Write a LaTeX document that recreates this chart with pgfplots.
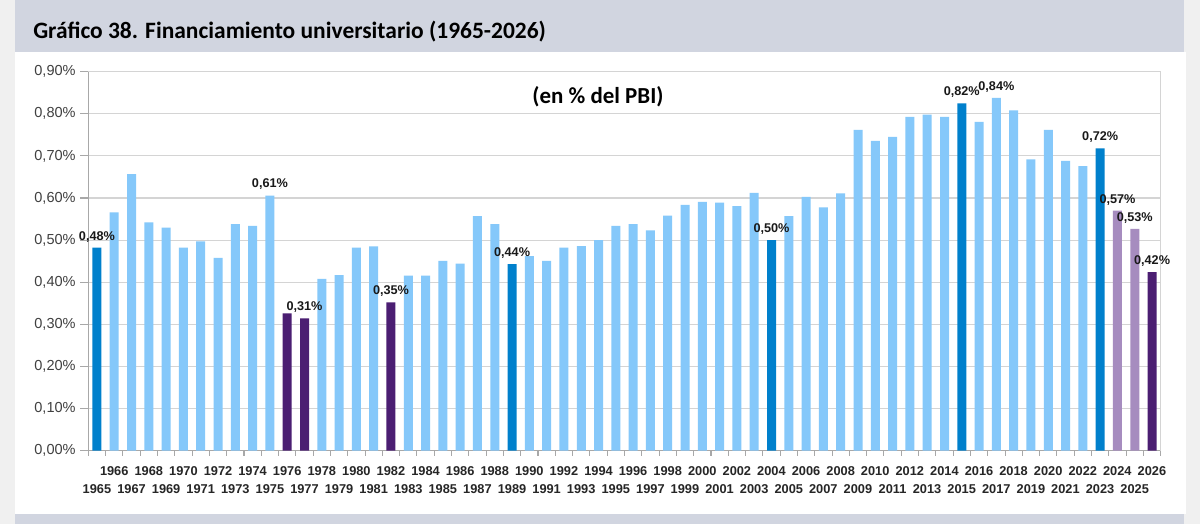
\documentclass[border=0pt]{standalone}
\usepackage{fontspec}
\setmainfont{Liberation Sans}
\newfontfamily\calibri{Carlito}
\usepackage{pgfplots}
\pgfplotsset{compat=1.18}
\definecolor{lblue}{HTML}{85C8FA}
\definecolor{dblue}{HTML}{0080CC}
\definecolor{dpurp}{HTML}{4B1E72}
\definecolor{lpurp}{HTML}{A68CBF}
\definecolor{band}{HTML}{D1D5E0}
\definecolor{side}{HTML}{F0F0F0}
\definecolor{gridc}{HTML}{D4D4D4}
\definecolor{axc}{HTML}{A8A8A8}
\definecolor{tickc}{HTML}{404040}
\newcommand\lo[1]{\strut\\\strut #1}
\newcommand\hi[1]{\strut #1\\\strut}
\pgfplotstableread{
x y
1966 0.566
1967 0.657
1968 0.542
1969 0.530
1970 0.482
1971 0.497
1972 0.458
1973 0.538
1974 0.534
1975 0.606
1978 0.408
1979 0.417
1980 0.482
1981 0.485
1983 0.416
1984 0.416
1985 0.451
1986 0.444
1987 0.557
1988 0.538
1990 0.462
1991 0.451
1992 0.482
1993 0.486
1994 0.500
1995 0.534
1996 0.538
1997 0.523
1998 0.558
1999 0.584
2000 0.591
2001 0.589
2002 0.581
2003 0.612
2005 0.557
2006 0.603
2007 0.578
2008 0.611
2009 0.762
2010 0.736
2011 0.745
2012 0.793
2013 0.798
2014 0.793
2016 0.781
2017 0.838
2018 0.808
2019 0.692
2020 0.762
2021 0.688
2022 0.676
}\lightdata
\pgfplotstableread{
x y
1965 0.482
1989 0.443
2004 0.500
2015 0.825
2023 0.718
}\dbluedata
\pgfplotstableread{
x y
1976 0.326
1977 0.314
1982 0.352
2026 0.424
}\dpurpdata
\pgfplotstableread{
x y
2024 0.570
2025 0.527
}\lpurpdata
\pgfplotstableread{
x y l
1965 0.482 0,48\%
1975 0.606 0,61\%
1977 0.314 0,31\%
1982 0.352 0,35\%
1989 0.443 0,44\%
2004 0.500 0,50\%
2015 0.825 0,82\%
2017 0.838 0,84\%
2023 0.718 0,72\%
2024 0.570 0,57\%
2025 0.527 0,53\%
2026 0.424 0,42\%
}\labeldata
\begin{document}
\begin{tikzpicture}[x=0.75pt,y=0.75pt]
\fill[side] (0,0) rectangle (1200,524);
\fill[white] (15,10) rectangle (1186,472);
\fill[band] (15,472) rectangle (1184,524);
\fill[band] (15,0) rectangle (1184,10);
\useasboundingbox (0,0) rectangle (1200,524);
\node[anchor=west, inner sep=0pt, font=\calibri\bfseries\fontsize{17.6}{20}\selectfont] at (33,492.5) {Gráfico 38. Financiamiento universitario (1965-2026)};
\begin{axis}[
  at={(66.225pt,54.975pt)}, anchor=south west,
  scale only axis, width=804.3pt, height=284.25pt,
  xmin=1964.5, xmax=2026.5, ymin=0, ymax=0.9,
  enlargelimits=false,
  axis x line*=bottom, axis y line*=left,
  axis line style={axc, line width=0.8pt},
  ymajorgrids, grid style={gridc, line width=0.8pt},
  ytick={0,0.1,...,0.9},
  yticklabels={{0,00\%},{0,10\%},{0,20\%},{0,30\%},{0,40\%},{0,50\%},{0,60\%},{0,70\%},{0,80\%},{0,90\%}},
  yticklabel style={font=\fontsize{10.9}{13}\selectfont, text=tickc},
  ytick style={axc, line width=0.8pt},
  tick align=outside, major tick length=6pt,
  xtick={1965,...,2026},
  xticklabels={{\lo{1965}},{\hi{1966}},{\lo{1967}},{\hi{1968}},{\lo{1969}},{\hi{1970}},{\lo{1971}},{\hi{1972}},{\lo{1973}},{\hi{1974}},{\lo{1975}},{\hi{1976}},{\lo{1977}},{\hi{1978}},{\lo{1979}},{\hi{1980}},{\lo{1981}},{\hi{1982}},{\lo{1983}},{\hi{1984}},{\lo{1985}},{\hi{1986}},{\lo{1987}},{\hi{1988}},{\lo{1989}},{\hi{1990}},{\lo{1991}},{\hi{1992}},{\lo{1993}},{\hi{1994}},{\lo{1995}},{\hi{1996}},{\lo{1997}},{\hi{1998}},{\lo{1999}},{\hi{2000}},{\lo{2001}},{\hi{2002}},{\lo{2003}},{\hi{2004}},{\lo{2005}},{\hi{2006}},{\lo{2007}},{\hi{2008}},{\lo{2009}},{\hi{2010}},{\lo{2011}},{\hi{2012}},{\lo{2013}},{\hi{2014}},{\lo{2015}},{\hi{2016}},{\lo{2017}},{\hi{2018}},{\lo{2019}},{\hi{2020}},{\lo{2021}},{\hi{2022}},{\lo{2023}},{\hi{2024}},{\lo{2025}},{\hi{2026}}},
  xticklabel style={font=\bfseries\fontsize{9.6}{13.7}\selectfont, align=center, text=black!85, inner sep=1pt, yshift=-1.5pt},
  xtick style={draw=none},
  extra x ticks={1964.5,1965.5,...,2026.5},
  extra x tick labels={},
  extra x tick style={grid=none, xtick style={draw=axc, line width=0.8pt}, major tick length=3.75pt},
  bar width=6.75pt,
  clip=false,
]
\addplot[ybar, bar shift=0pt, fill=lblue, draw=none] table[x=x,y=y]{\lightdata};
\addplot[ybar, bar shift=0pt, fill=dblue, draw=none] table[x=x,y=y]{\dbluedata};
\addplot[ybar, bar shift=0pt, fill=dpurp, draw=none] table[x=x,y=y]{\dpurpdata};
\addplot[ybar, bar shift=0pt, fill=lpurp, draw=none] table[x=x,y=y]{\lpurpdata};
\addplot[draw=none, mark=none, nodes near coords, point meta=explicit symbolic,
  nodes near coords style={font=\bfseries\fontsize{9.5}{11}\selectfont, text=black!90, anchor=south, inner sep=0pt, yshift=4pt}]
  table[x=x,y=y,meta=l]{\labeldata};
\draw[gridc, line width=0.8pt] (rel axis cs:0,1) -- (rel axis cs:1,1) -- (rel axis cs:1,0);
\end{axis}
\node[font=\calibri\bfseries\fontsize{17.2}{20}\selectfont] at (598,427) {(en \% del PBI)};
\end{tikzpicture}
\end{document}
